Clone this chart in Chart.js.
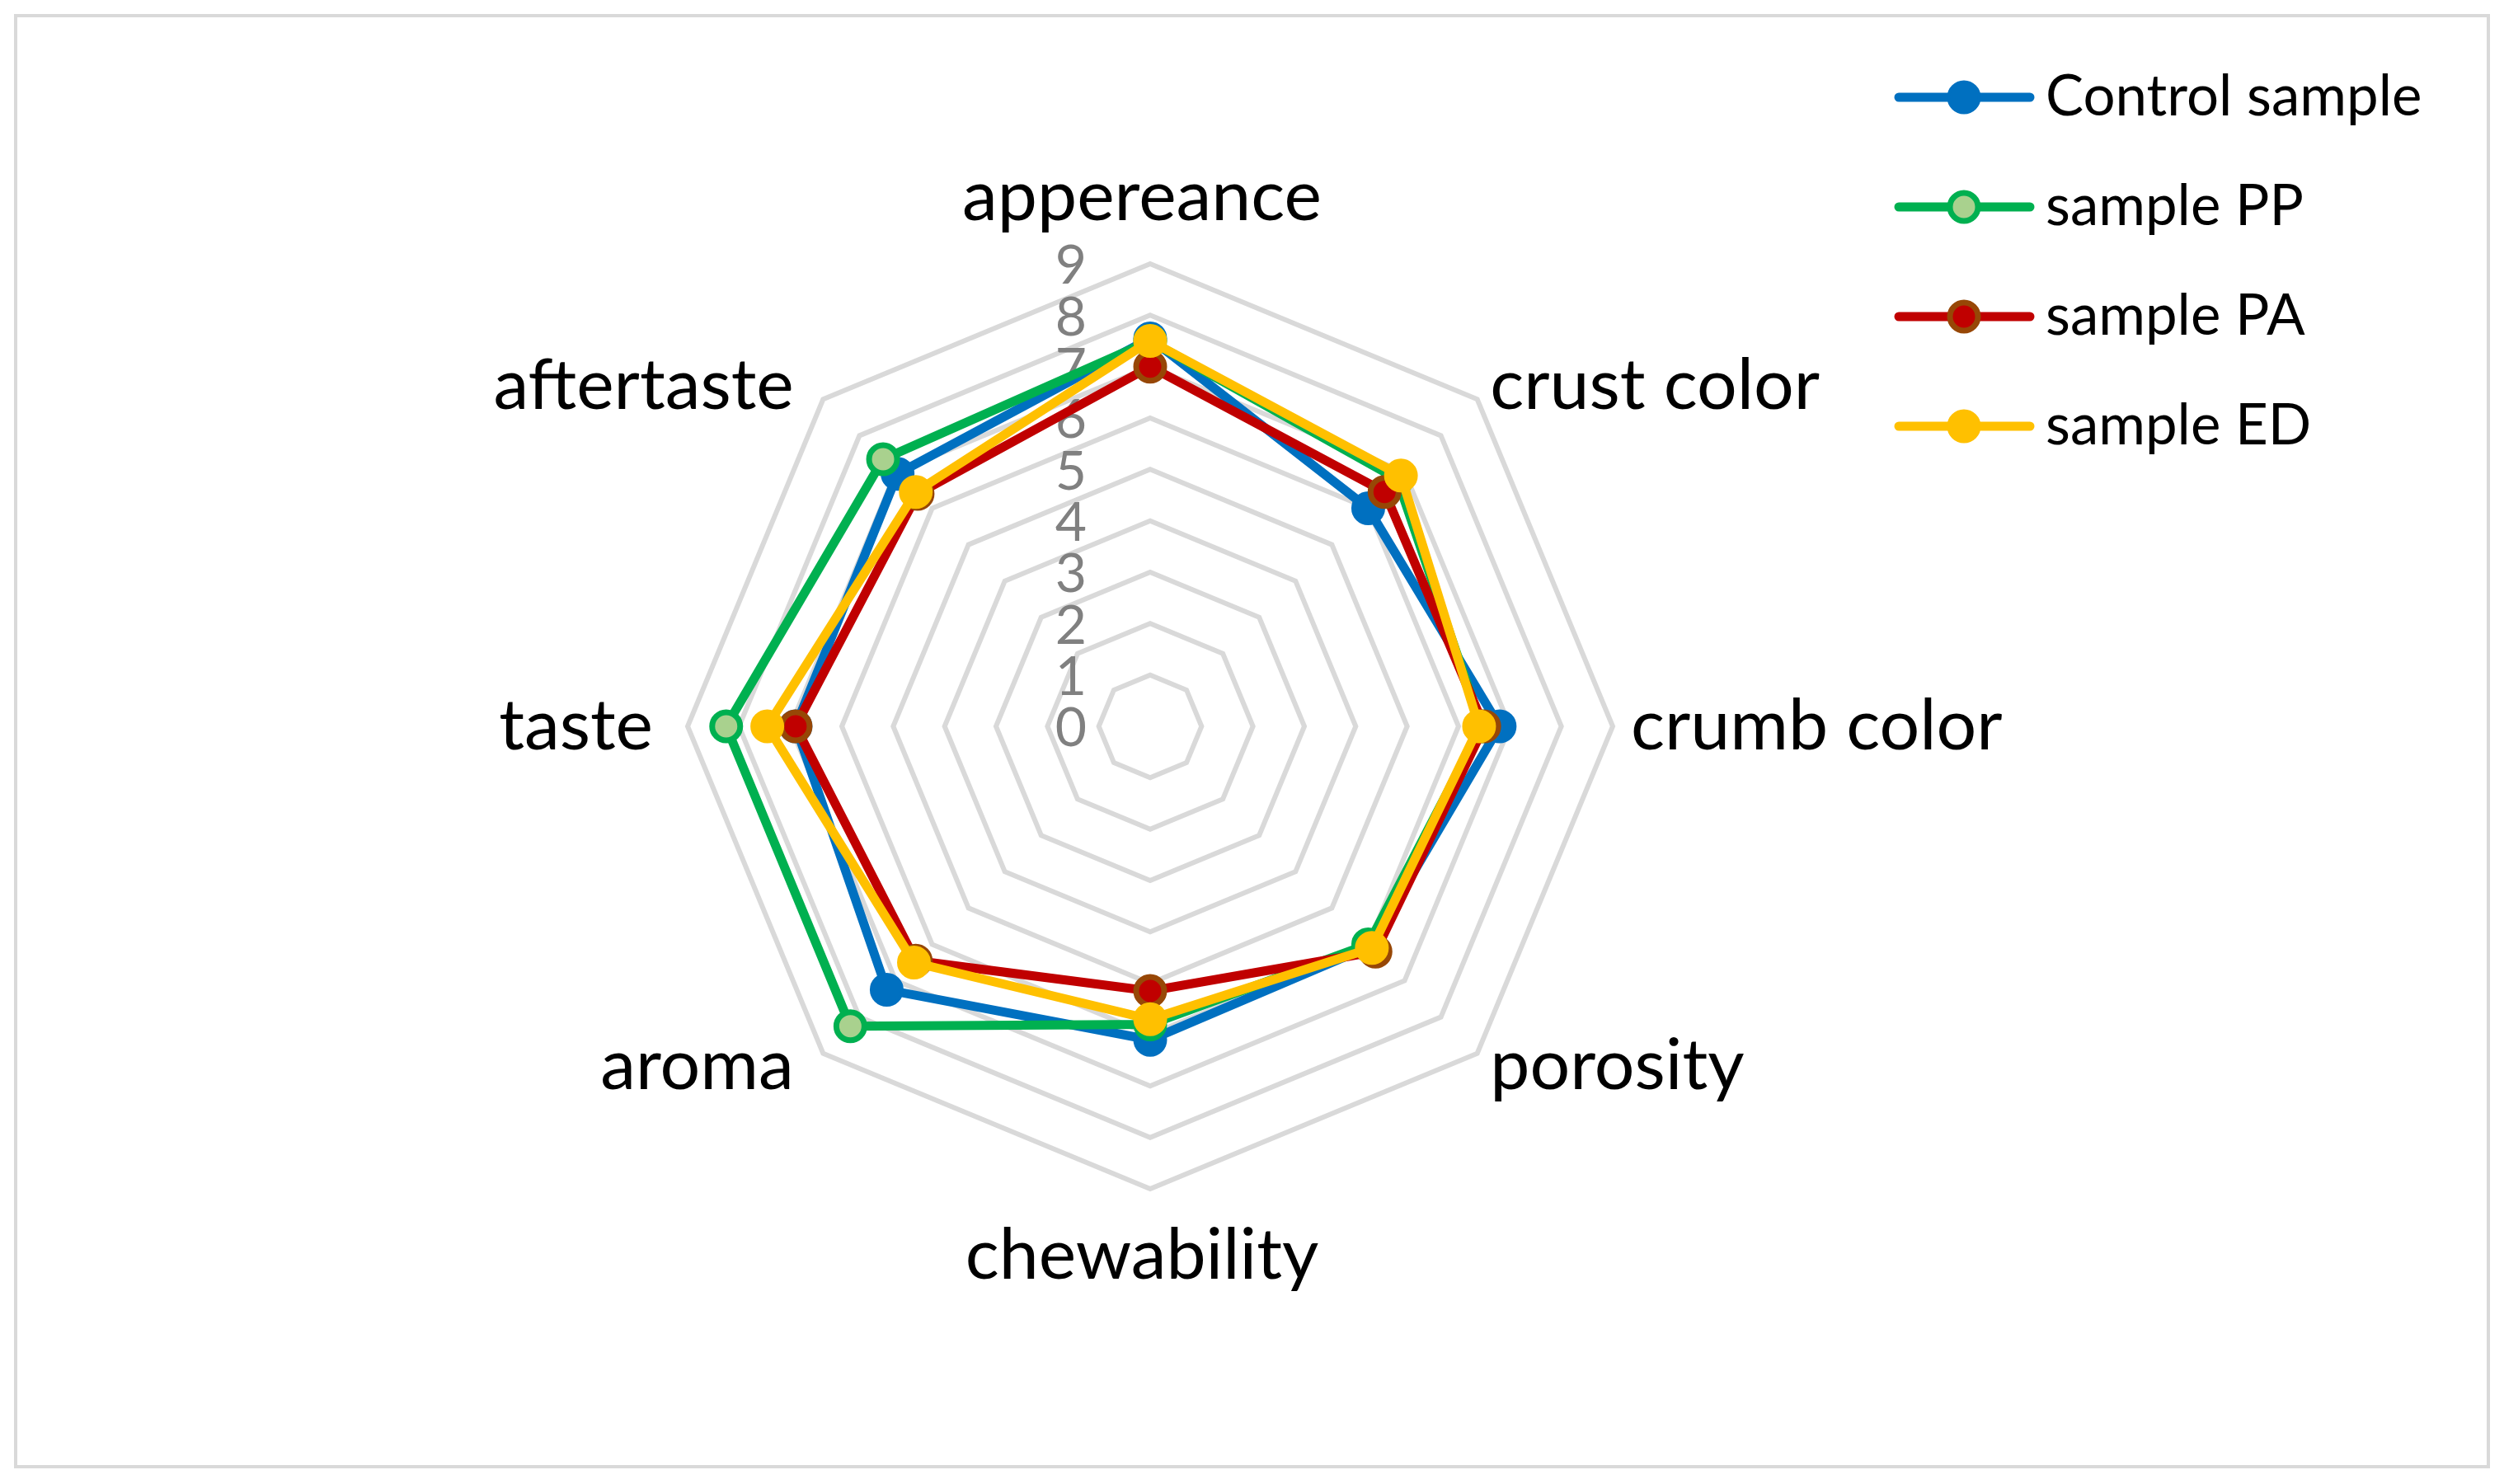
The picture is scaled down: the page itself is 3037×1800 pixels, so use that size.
<!DOCTYPE html>
<html>
<head>
<meta charset="utf-8">
<script src="https://cdn.jsdelivr.net/npm/chart.js@4"></script>
<style>
  html, body { margin: 0; padding: 0; background: #fff; }
  canvas { display: block; }
</style>
</head>
<body>
<canvas id="chart" width="3037" height="1800"></canvas>
<script>
// sensory profile radar
const categories = ['appereance', 'crust color', 'crumb color', 'porosity', 'chewability', 'aroma', 'taste', 'aftertaste'];
const seriesNames = ['Control sample', 'sample PP', 'sample PA', 'sample ED'];
const controlSample = [7.55, 6.0, 6.8, 6.05, 6.1, 7.25, 6.9, 6.95];
const samplePP = [7.5, 6.8, 6.45, 6.0, 5.8, 8.25, 8.25, 7.35];
const samplePA = [7.0, 6.45, 6.5, 6.2, 5.15, 6.45, 6.9, 6.4];
const sampleED = [7.5, 6.9, 6.4, 6.1, 5.7, 6.5, 7.45, 6.45];
const tickValues = [0, 1, 2, 3, 4, 5, 6, 7, 8, 9];

const FONT = 'Lato, "Liberation Sans", sans-serif';

const excelText = {
    id: 'excelText',
    beforeDraw(chart) {
        const ctx = chart.ctx;
        ctx.save();
        ctx.fillStyle = '#fff';
        ctx.fillRect(0, 0, chart.width, chart.height);
        ctx.strokeStyle = '#d9d9d9';
        ctx.lineWidth = 4;
        ctx.strokeRect(19, 19, chart.width - 38, chart.height - 40);
        ctx.restore();
    },
    beforeDatasetsDraw(chart) {
        // tick numbers sit left of the vertical axis, under the lines
        const ctx = chart.ctx;
        const r = chart.scales.r;
        ctx.save();
        ctx.font = '66px ' + FONT;
        ctx.fillStyle = '#808080';
        ctx.textAlign = 'right';
        ctx.textBaseline = 'middle';
        tickValues.forEach(v => {
            const y = r.yCenter - r.getDistanceFromCenterForValue(v);
            ctx.fillText(String(v), r.xCenter - 77, y + 3);
        });
        ctx.restore();
    },
    afterDraw(chart) {
        const ctx = chart.ctx;
        const r = chart.scales.r;
        ctx.save();

        // category labels
        ctx.font = '86px ' + FONT;
        ctx.fillStyle = '#000';
        ctx.textBaseline = 'middle';
        categories.forEach((label, i) => {
            const n = categories.length;
            if (i === 0 || i === n / 2) {
                const p = r.getPointPosition(i, r.drawingArea + 81);
                ctx.textAlign = 'center';
                ctx.fillText(label, p.x - 10, p.y);
            } else if (i < n / 2) {
                const p = r.getPointPosition(i, r.drawingArea + 22);
                ctx.textAlign = 'left';
                ctx.fillText(label, p.x, p.y);
            } else {
                const p = r.getPointPosition(i, r.drawingArea + 22);
                ctx.textAlign = 'right';
                ctx.fillText(label, p.x - 20, p.y);
            }
        });

        // legend
        ctx.font = '69px ' + FONT;
        ctx.textAlign = 'left';
        chart.data.datasets.forEach((ds, i) => {
            const y = 118 + i * 133;
            ctx.strokeStyle = ds.borderColor;
            ctx.lineWidth = ds.borderWidth;
            ctx.lineCap = 'round';
            ctx.beginPath();
            ctx.moveTo(2303, y);
            ctx.lineTo(2462, y);
            ctx.stroke();
            ctx.beginPath();
            ctx.arc(2382, y, ds.pointRadius, 0, Math.PI * 2);
            ctx.fillStyle = ds.pointBackgroundColor;
            ctx.fill();
            ctx.lineWidth = ds.pointBorderWidth;
            ctx.strokeStyle = ds.pointBorderColor;
            ctx.stroke();
            ctx.fillStyle = '#000';
            ctx.fillText(ds.label, 2481, y);
        });
        ctx.restore();
    }
};

function makeSeries(label, data, line, fill, edge, edgeWidth, radius, order) {
    return {
        label: label,
        data: data,
        borderColor: line,
        backgroundColor: line,
        borderWidth: 11,
        fill: false,
        tension: 0,
        pointRadius: radius,
        pointHoverRadius: radius,
        pointBackgroundColor: fill,
        pointBorderColor: edge,
        pointBorderWidth: edgeWidth,
        order: order
    };
}

const ctx = document.getElementById('chart').getContext('2d');
const chart = new Chart(ctx, {
    type: 'radar',
    data: {
        labels: categories,
        datasets: [
            makeSeries(seriesNames[0], controlSample, '#0070c0', '#0070c0', '#0070c0', 4, 18.5, 3),
            makeSeries(seriesNames[1], samplePP, '#00b050', '#a9d18e', '#00b050', 7, 17, 2),
            makeSeries(seriesNames[2], samplePA, '#c00000', '#c00000', '#974706', 7, 17, 1),
            makeSeries(seriesNames[3], sampleED, '#ffc000', '#ffc000', '#ffc000', 4, 18.5, 0)
        ]
    },
    options: {
        responsive: false,
        animation: false,
        layout: {
            padding: { left: 834, right: 1081, top: 320, bottom: 358 }
        },
        plugins: {
            legend: { display: false },
            tooltip: { enabled: false }
        },
        scales: {
            r: {
                min: 0,
                max: 9,
                ticks: { stepSize: 1, display: false },
                grid: { color: '#d9d9d9', lineWidth: 6 },
                angleLines: { display: false },
                pointLabels: { display: false }
            }
        }
    },
    plugins: [excelText]
});
</script>
</body>
</html>
